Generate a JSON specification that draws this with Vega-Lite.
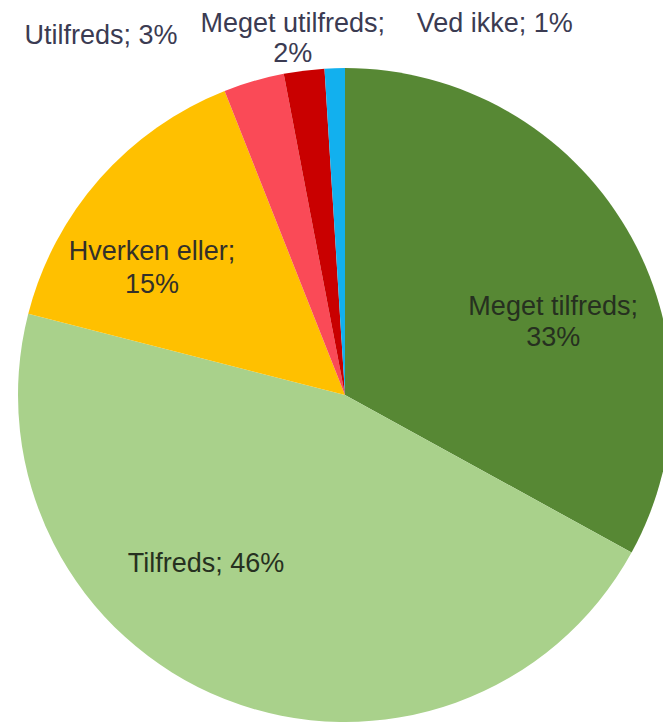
{
  "$schema": "https://vega.github.io/schema/vega-lite/v6.json",
  "width": 690,
  "height": 790,
  "autosize": "none",
  "padding": {"left": 0, "top": 0, "right": -27, "bottom": -63},
  "background": "white",
  "data": {
    "values": [
      {"cat": "Meget tilfreds", "pct": 33, "order": 1, "label": "Meget tilfreds;\n33%"},
      {"cat": "Tilfreds", "pct": 46, "order": 2, "label": "Tilfreds; 46%"},
      {"cat": "Hverken eller", "pct": 15, "order": 3, "label": "Hverken eller;\n15%"},
      {"cat": "Utilfreds", "pct": 3, "order": 4, "label": "Utilfreds; 3%"},
      {"cat": "Meget utilfreds", "pct": 2, "order": 5, "label": "Meget utilfreds;\n2%"},
      {"cat": "Ved ikke", "pct": 1, "order": 6, "label": "Ved ikke; 1%"}
    ]
  },
  "encoding": {
    "theta": {"field": "pct", "type": "quantitative", "stack": true},
    "order": {"field": "order", "type": "quantitative"}
  },
  "layer": [
    {
      "mark": {"type": "arc", "outerRadius": 327, "stroke": null},
      "encoding": {
        "color": {
          "field": "cat",
          "type": "nominal",
          "legend": null,
          "scale": {
            "domain": ["Meget tilfreds", "Tilfreds", "Hverken eller", "Utilfreds", "Meget utilfreds", "Ved ikke"],
            "range": ["#578834", "#a9d18b", "#ffc000", "#fa4a57", "#c90000", "#12b0ee"]
          }
        }
      }
    },
    {
      "mark": {"type": "text", "radius": 226, "thetaOffset": 0.134, "lineBreak": "\n", "font": "Liberation Sans", "fontSize": 27, "lineHeight": 31, "fill": "#263020", "align": "center", "baseline": "middle"},
      "encoding": {"text": {"condition": {"test": "datum.cat === 'Meget tilfreds'", "field": "label"}, "value": ""}}
    },
    {
      "mark": {"type": "text", "radius": 219, "thetaOffset": 0.311, "lineBreak": "\n", "font": "Liberation Sans", "fontSize": 27, "lineHeight": 31, "fill": "#263020", "align": "center", "baseline": "middle"},
      "encoding": {"text": {"condition": {"test": "datum.cat === 'Tilfreds'", "field": "label"}, "value": ""}}
    },
    {
      "mark": {"type": "text", "radius": 240, "thetaOffset": -0.086, "lineBreak": "\n", "font": "Liberation Sans", "fontSize": 27, "lineHeight": 33, "fill": "#33302a", "align": "center", "baseline": "middle"},
      "encoding": {"text": {"condition": {"test": "datum.cat === 'Hverken eller'", "field": "label"}, "value": ""}}
    },
    {
      "mark": {"type": "text", "radius": 434, "thetaOffset": -0.314, "lineBreak": "\n", "font": "Liberation Sans", "fontSize": 27, "lineHeight": 31, "fill": "#3b3b52", "align": "center", "baseline": "middle"},
      "encoding": {"text": {"condition": {"test": "datum.cat === 'Utilfreds'", "field": "label"}, "value": ""}}
    },
    {
      "mark": {"type": "text", "radius": 375, "thetaOffset": -0.014, "lineBreak": "\n", "font": "Liberation Sans", "fontSize": 27, "lineHeight": 30, "fill": "#3b3b52", "align": "center", "baseline": "middle"},
      "encoding": {"text": {"condition": {"test": "datum.cat === 'Meget utilfreds'", "field": "label"}, "value": ""}}
    },
    {
      "mark": {"type": "text", "radius": 400, "thetaOffset": 0.415, "lineBreak": "\n", "font": "Liberation Sans", "fontSize": 27, "lineHeight": 31, "fill": "#3b3b52", "align": "center", "baseline": "middle"},
      "encoding": {"text": {"condition": {"test": "datum.cat === 'Ved ikke'", "field": "label"}, "value": ""}}
    }
  ]
}
